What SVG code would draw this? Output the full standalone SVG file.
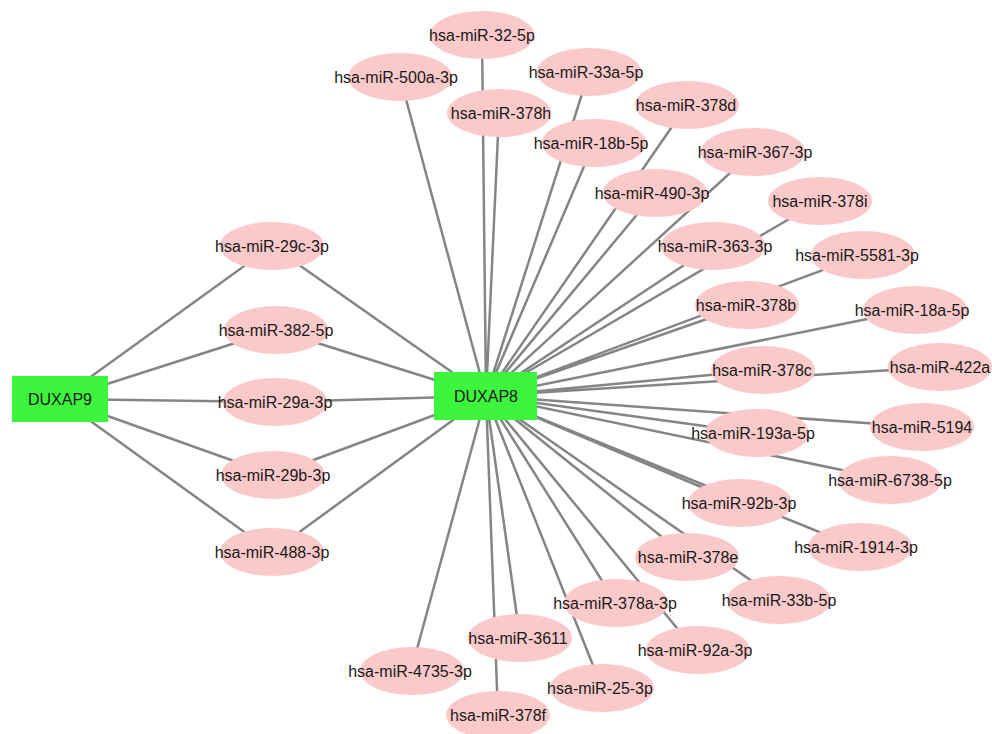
<svg xmlns="http://www.w3.org/2000/svg" width="992" height="734" viewBox="0 0 992 734">
<style>
.e{stroke:#858585;stroke-width:2.5;fill:none}
.m ellipse{fill:#fac9c9}
.g rect{fill:#3ef53e}
text{font-family:"Liberation Sans",Arial,sans-serif;font-size:16px;fill:#1a1a1a;text-anchor:middle;dominant-baseline:central}
</style>
<rect width="992" height="734" fill="#ffffff"/>
<g id="connectors">
<path class="e" d="M60 399L272 246M60 399L276 330M60 399L275 402M60 399L273 475M60 399L272 552"/>
<path class="e" d="M486 396L272 246M486 396L276 330M486 396L275 402M486 396L273 475M486 396L272 552"/>
<path class="e" d="M486 396L482 35M486 396L400 77M486 396L589 72M486 396L499 113M486 396L687 105M486 396L594 143M486 396L753 152M486 396L655 193M486 396L820 201M486 396L713 246M486 396L863 255M486 396L747 305M486 396L912 310M486 396L763 370M486 396L940 367M486 396L755 433M486 396L922 427M486 396L890 480M486 396L739 503M486 396L856 547M486 396L687 557M486 396L779 600M486 396L616 603M486 396L695 650M486 396L520 638M486 396L411 671M486 396L602 688M486 396L498 715"/>
</g>
<g id="DUXAP9" class="g"><rect x="12" y="376" width="96" height="46"/><text x="60" y="399">DUXAP9</text></g>
<g id="DUXAP8" class="g"><rect x="434" y="372" width="103" height="48"/><text x="486" y="396">DUXAP8</text></g>
<g id="miR-29c-3p" class="m"><ellipse cx="272" cy="246" rx="52" ry="24"/><text x="272" y="246">hsa-miR-29c-3p</text></g>
<g id="miR-382-5p" class="m"><ellipse cx="276" cy="330" rx="52" ry="24"/><text x="276" y="330">hsa-miR-382-5p</text></g>
<g id="miR-29a-3p" class="m"><ellipse cx="275" cy="402" rx="52" ry="24"/><text x="275" y="402">hsa-miR-29a-3p</text></g>
<g id="miR-29b-3p" class="m"><ellipse cx="273" cy="475" rx="52" ry="24"/><text x="273" y="475">hsa-miR-29b-3p</text></g>
<g id="miR-488-3p" class="m"><ellipse cx="272" cy="552" rx="52" ry="24"/><text x="272" y="552">hsa-miR-488-3p</text></g>
<g id="miR-32-5p" class="m"><ellipse cx="482" cy="35" rx="52" ry="24"/><text x="482" y="35">hsa-miR-32-5p</text></g>
<g id="miR-500a-3p" class="m"><ellipse cx="400" cy="77" rx="52" ry="24"/><text x="396" y="77">hsa-miR-500a-3p</text></g>
<g id="miR-33a-5p" class="m"><ellipse cx="589" cy="72" rx="52" ry="24"/><text x="586" y="72">hsa-miR-33a-5p</text></g>
<g id="miR-378h" class="m"><ellipse cx="499" cy="113" rx="52" ry="24"/><text x="501" y="113">hsa-miR-378h</text></g>
<g id="miR-378d" class="m"><ellipse cx="687" cy="105" rx="52" ry="24"/><text x="686" y="105">hsa-miR-378d</text></g>
<g id="miR-18b-5p" class="m"><ellipse cx="594" cy="143" rx="52" ry="24"/><text x="591" y="143">hsa-miR-18b-5p</text></g>
<g id="miR-367-3p" class="m"><ellipse cx="753" cy="152" rx="52" ry="24"/><text x="755" y="152">hsa-miR-367-3p</text></g>
<g id="miR-490-3p" class="m"><ellipse cx="655" cy="193" rx="52" ry="24"/><text x="652" y="193">hsa-miR-490-3p</text></g>
<g id="miR-378i" class="m"><ellipse cx="820" cy="201" rx="52" ry="24"/><text x="820" y="201">hsa-miR-378i</text></g>
<g id="miR-363-3p" class="m"><ellipse cx="713" cy="246" rx="52" ry="24"/><text x="715" y="246">hsa-miR-363-3p</text></g>
<g id="miR-5581-3p" class="m"><ellipse cx="863" cy="255" rx="52" ry="24"/><text x="857" y="255">hsa-miR-5581-3p</text></g>
<g id="miR-378b" class="m"><ellipse cx="747" cy="305" rx="52" ry="24"/><text x="746" y="305">hsa-miR-378b</text></g>
<g id="miR-18a-5p" class="m"><ellipse cx="915" cy="310" rx="52" ry="24"/><text x="912" y="310">hsa-miR-18a-5p</text></g>
<g id="miR-378c" class="m"><ellipse cx="763" cy="370" rx="52" ry="24"/><text x="762" y="370">hsa-miR-378c</text></g>
<g id="miR-422a" class="m"><ellipse cx="940" cy="367" rx="52" ry="24"/><text x="940" y="367">hsa-miR-422a</text></g>
<g id="miR-193a-5p" class="m"><ellipse cx="757" cy="433" rx="52" ry="24"/><text x="753" y="433">hsa-miR-193a-5p</text></g>
<g id="miR-5194" class="m"><ellipse cx="922" cy="427" rx="52" ry="24"/><text x="922" y="427">hsa-miR-5194</text></g>
<g id="miR-6738-5p" class="m"><ellipse cx="890" cy="480" rx="52" ry="24"/><text x="890" y="480">hsa-miR-6738-5p</text></g>
<g id="miR-92b-3p" class="m"><ellipse cx="740" cy="503" rx="52" ry="24"/><text x="739" y="503">hsa-miR-92b-3p</text></g>
<g id="miR-1914-3p" class="m"><ellipse cx="860" cy="547" rx="52" ry="24"/><text x="856" y="547">hsa-miR-1914-3p</text></g>
<g id="miR-378e" class="m"><ellipse cx="687" cy="557" rx="52" ry="24"/><text x="688" y="557">hsa-miR-378e</text></g>
<g id="miR-33b-5p" class="m"><ellipse cx="779" cy="600" rx="52" ry="24"/><text x="779" y="600">hsa-miR-33b-5p</text></g>
<g id="miR-378a-3p" class="m"><ellipse cx="616" cy="603" rx="52" ry="24"/><text x="615" y="603">hsa-miR-378a-3p</text></g>
<g id="miR-92a-3p" class="m"><ellipse cx="698" cy="650" rx="52" ry="24"/><text x="695" y="650">hsa-miR-92a-3p</text></g>
<g id="miR-3611" class="m"><ellipse cx="520" cy="638" rx="52" ry="24"/><text x="518" y="638">hsa-miR-3611</text></g>
<g id="miR-4735-3p" class="m"><ellipse cx="412" cy="671" rx="52" ry="24"/><text x="410" y="671">hsa-miR-4735-3p</text></g>
<g id="miR-25-3p" class="m"><ellipse cx="602" cy="688" rx="52" ry="24"/><text x="600" y="688">hsa-miR-25-3p</text></g>
<g id="miR-378f" class="m"><ellipse cx="498" cy="715" rx="52" ry="24"/><text x="498" y="715">hsa-miR-378f</text></g>
</svg>
